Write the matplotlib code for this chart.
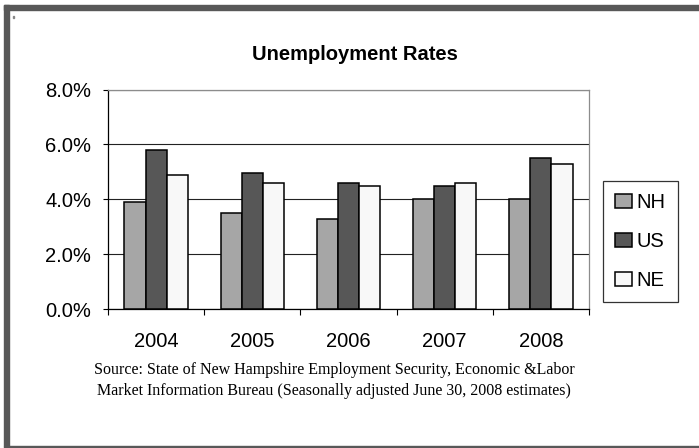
import numpy as np
import matplotlib
matplotlib.use("Agg")
import matplotlib.pyplot as plt
from matplotlib.patches import Rectangle
from matplotlib.ticker import FixedLocator, FuncFormatter

years = ["2004", "2005", "2006", "2007", "2008"]
series = ["NH", "US", "NE"]
nh = [3.9, 3.5, 3.3, 4.0, 4.0]
us = [5.8, 4.95, 4.6, 4.5, 5.5]
ne = [4.9, 4.6, 4.5, 4.6, 5.3]
colors = ["#a6a6a6", "#575757", "#f8f8f8"]

plt.rcParams["font.family"] = ["Liberation Sans", "DejaVu Sans"]

fig = plt.figure(figsize=(6.99, 4.48), dpi=100)
ax = fig.add_axes([0.1545, 0.3096, 0.8426 - 0.1545, 0.8002 - 0.3096])

x = np.arange(len(years))
w = 0.22
for i, (vals, lab) in enumerate(zip([nh, us, ne], series)):
    ax.bar(x + (i - 1) * w, vals, w, color=colors[i], edgecolor="black",
           linewidth=1.1, label=lab, zorder=3)

ax.set_xlim(-0.5, 4.5)
ax.set_ylim(0, 8)
ax.set_yticks([0, 2, 4, 6, 8])
ax.yaxis.set_major_formatter(FuncFormatter(lambda v, p: "%.1f%%" % v))
ax.yaxis.grid(True, color="#222222", linewidth=0.8, zorder=0)
ax.tick_params(axis="y", length=3.6, width=0.8, pad=8.5, labelsize=14.5)

ax.set_xticks(x)
ax.set_xticklabels(years)
ax.xaxis.set_minor_locator(FixedLocator(np.arange(-0.5, 5, 1)))
ax.tick_params(axis="x", which="major", length=0, pad=16, labelsize=14.5)
ax.tick_params(axis="x", which="minor", length=4, width=0.8)

for s in ["left", "bottom"]:
    ax.spines[s].set_color("black")
    ax.spines[s].set_linewidth(0.9)
for s in ["top", "right"]:
    ax.spines[s].set_color("#8c8c8c")
    ax.spines[s].set_linewidth(0.9)

fig.text(355 / 699, 1 - 54 / 448, "Unemployment Rates", ha="center", va="center",
         fontsize=14.5, fontweight="bold")

leg = ax.legend(loc="upper left", bbox_to_anchor=(0.8631, 0.596),
                bbox_transform=fig.transFigure, fontsize=14.5, frameon=True,
                fancybox=False, edgecolor="black", handlelength=0.8,
                handleheight=0.7, handletextpad=0.25, labelspacing=1.0,
                borderpad=0.6, borderaxespad=0)
leg.get_frame().set_linewidth(0.9)

fig.text(334 / 699, 1 - 370 / 448,
         "Source: State of New Hampshire Employment Security, Economic &Labor",
         ha="center", va="center", fontsize=11.5, family="Liberation Serif")
fig.text(334 / 699, 1 - 391 / 448,
         "Market Information Bureau (Seasonally adjusted June 30, 2008 estimates)",
         ha="center", va="center", fontsize=11.5, family="Liberation Serif")

# outer frame
W, H = 699.0, 448.0
frame = "#585858"
fig.patches.append(Rectangle((4 / W, (H - 446) / H), 5 / W, 441 / H,
                             transform=fig.transFigure, color=frame, zorder=0))
fig.patches.append(Rectangle((4 / W, (H - 10) / H), 695 / W, 5 / H,
                             transform=fig.transFigure, color=frame, zorder=0))
fig.patches.append(Rectangle((4 / W, 0), 695 / W, 2 / H,
                             transform=fig.transFigure, color=frame, zorder=0))
fig.patches.append(Rectangle((13 / W, (H - 18) / H), 1.5 / W, 1.5 / H,
                             transform=fig.transFigure, color="#888888", zorder=0))

fig.savefig("out.png", dpi=100)
